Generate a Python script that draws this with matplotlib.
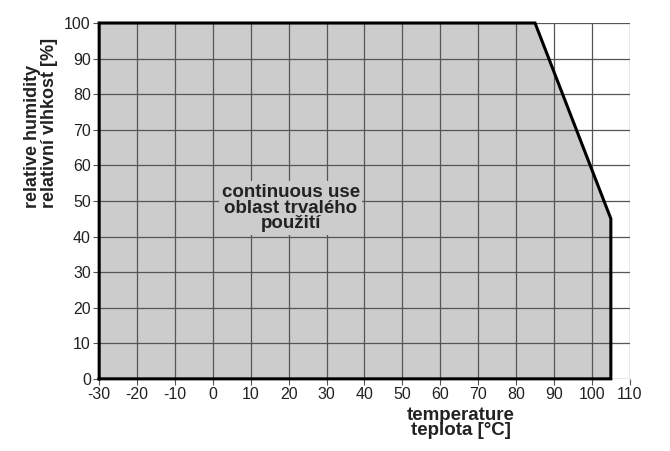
import matplotlib.pyplot as plt

plt.rcParams['font.family'] = ['Liberation Sans', 'DejaVu Sans']
plt.rcParams['axes.unicode_minus'] = False

# operating area boundary (temperature degC, relative humidity %)
temp = [-30, -30, 85, 105, 105]
rh = [0, 100, 100, 45, 0]

x_ticks = list(range(-30, 111, 10))
y_ticks = list(range(0, 101, 10))

fig = plt.figure(figsize=(6.7, 4.51), dpi=100)
ax = fig.add_axes([0.148, 0.160, 0.792, 0.789])

ax.fill(temp, rh, color='#cccccc', zorder=1)
ax.plot(temp + [temp[0]], rh + [rh[0]], color='black', lw=2.2, zorder=3,
        solid_joinstyle='miter', clip_on=False)

ax.set_xlim(-30, 110)
ax.set_ylim(0, 100)
ax.set_xticks(x_ticks)
ax.set_yticks(y_ticks)
ax.grid(True, color='#555555', lw=0.9, zorder=2)
ax.set_axisbelow(False)
for s in ax.spines.values():
    s.set_visible(False)
ax.tick_params(direction='out', length=4, width=0.8, color='#555555',
               labelsize=11.5, labelcolor='#222222', pad=2)

ax.text(20.5, 48, 'continuous use\noblast trvalého\npoužití', ha='center', va='center',
        fontsize=13.5, fontweight='bold', color='#222222', linespacing=0.9,
        bbox=dict(facecolor='#cccccc', edgecolor='none', pad=2), zorder=4)

fig.text(461/670, 1 - 423/451, 'temperature\nteplota [°C]', ha='center', va='center',
         fontsize=13.5, fontweight='bold', color='#222222', linespacing=0.9)
fig.text(41/670, 1 - 123/451, 'relative humidity\nrelativní vlhkost [%]', ha='center',
         va='center', rotation=90, multialignment='left',
         fontsize=13, fontweight='bold', color='#222222', linespacing=1.0)

fig.savefig('out.png', dpi=100)
